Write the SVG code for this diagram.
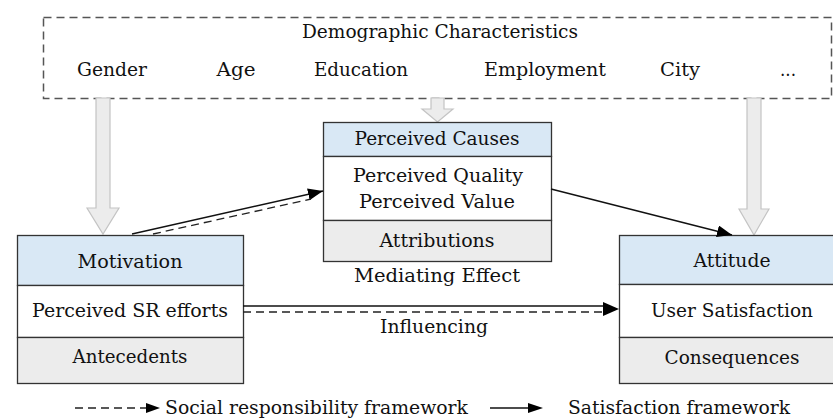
<svg xmlns="http://www.w3.org/2000/svg" width="833" height="419" viewBox="0 0 833 419">
  <style>
    text { font-family: "DejaVu Serif", "Liberation Serif", serif; font-size: 19px; fill: #111; }
    .t { text-anchor: middle; }
    .tl { text-anchor: start; }
    .box { stroke: #333; stroke-width: 1.3; }
    .head { fill: #d9e8f5; }
    .mid { fill: #ffffff; }
    .foot { fill: #ececec; }
    .big { fill: #ececec; stroke: #c4c4c4; stroke-width: 1.2; }
    .ln { stroke: #111; stroke-width: 1.4; fill: none; }
    .dash { stroke: #222; stroke-width: 1.3; stroke-dasharray: 8 5; fill: none; }
    .ah { fill: #000; }
  </style>
  <defs>
    <marker id="arrow" viewBox="0 0 15 12" refX="15" refY="6" markerWidth="15" markerHeight="12" markerUnits="userSpaceOnUse" orient="auto">
      <path d="M0,0 L15,6 L0,12 z" fill="#000"/>
    </marker>
  </defs>
  <rect width="833" height="419" fill="#ffffff"/>

  <!-- demographic frame -->
  <g id="demographics">
    <rect x="43.5" y="17.5" width="788" height="81" fill="none" stroke="#555" stroke-width="1.5" stroke-dasharray="8 5"/>
    <text class="t" x="440" y="38" textLength="276" lengthAdjust="spacingAndGlyphs">Demographic Characteristics</text>
    <text class="t" x="112" y="76" textLength="70" lengthAdjust="spacingAndGlyphs">Gender</text>
    <text class="t" x="236" y="76" textLength="39" lengthAdjust="spacingAndGlyphs">Age</text>
    <text class="t" x="361" y="76" textLength="94" lengthAdjust="spacingAndGlyphs">Education</text>
    <text class="t" x="545" y="76" textLength="122" lengthAdjust="spacingAndGlyphs">Employment</text>
    <text class="t" x="680" y="76" textLength="40" lengthAdjust="spacingAndGlyphs">City</text>
    <text class="t" x="788" y="76" textLength="16" lengthAdjust="spacingAndGlyphs">...</text>
  </g>

  <!-- broad grey influence arrows -->
  <g id="influence-arrows">
    <path class="big" d="M96,98 L110,98 L110,208 L119,208 L103,234 L87,208 L96,208 Z"/>
    <path class="big" d="M747,98 L761,98 L761,209 L769,209 L754,235 L739,209 L747,209 Z"/>
    <path class="big" d="M431,98 L444,98 L444,109 L453,109 L437.5,122 L422,109 L431,109 Z"/>
  </g>

  <!-- perceived causes -->
  <g id="perceived-causes">
    <rect class="box head" x="323.5" y="122.5" width="228" height="34"/>
    <rect class="box mid" x="323.5" y="156.5" width="228" height="64"/>
    <rect class="box foot" x="323.5" y="220.5" width="228" height="41"/>
    <text class="t" x="437" y="145" textLength="165" lengthAdjust="spacingAndGlyphs">Perceived Causes</text>
    <text class="t" x="438" y="182" textLength="170" lengthAdjust="spacingAndGlyphs">Perceived Quality</text>
    <text class="t" x="437" y="208" textLength="156" lengthAdjust="spacingAndGlyphs">Perceived Value</text>
    <text class="t" x="437" y="247" textLength="115" lengthAdjust="spacingAndGlyphs">Attributions</text>
    <text class="t" x="437" y="282" textLength="166" lengthAdjust="spacingAndGlyphs">Mediating Effect</text>
  </g>

  <!-- motivation -->
  <g id="motivation">
    <rect class="box head" x="17.5" y="235.5" width="226" height="50"/>
    <rect class="box mid" x="17.5" y="285.5" width="226" height="52"/>
    <rect class="box foot" x="17.5" y="337.5" width="226" height="46"/>
    <text class="t" x="130" y="268" textLength="105" lengthAdjust="spacingAndGlyphs">Motivation</text>
    <text class="t" x="130" y="317" textLength="196" lengthAdjust="spacingAndGlyphs">Perceived SR efforts</text>
    <text class="t" x="130" y="363" textLength="115" lengthAdjust="spacingAndGlyphs">Antecedents</text>
  </g>

  <!-- attitude -->
  <g id="attitude">
    <rect class="box head" x="619.5" y="235.5" width="226" height="49"/>
    <rect class="box mid" x="619.5" y="284.5" width="226" height="53"/>
    <rect class="box foot" x="619.5" y="337.5" width="226" height="46"/>
    <text class="t" x="732" y="267" textLength="77" lengthAdjust="spacingAndGlyphs">Attitude</text>
    <text class="t" x="732" y="317" textLength="162" lengthAdjust="spacingAndGlyphs">User Satisfaction</text>
    <text class="t" x="732" y="364" textLength="135" lengthAdjust="spacingAndGlyphs">Consequences</text>
  </g>

  <!-- connectors -->
  <g id="connectors">
    <line class="ln" x1="132" y1="234" x2="323" y2="191" marker-end="url(#arrow)"/>
    <line class="dash" x1="153" y1="234" x2="311" y2="199"/>
    <line class="ln" x1="551" y1="189" x2="732" y2="235" marker-end="url(#arrow)"/>
    <line class="ln" x1="243" y1="306" x2="605" y2="306"/>
    <line class="dash" x1="243" y1="312" x2="605" y2="312"/>
    <polygon class="ah" points="603,302 619,309 603,316"/>
    <text class="t" x="434" y="333" textLength="108" lengthAdjust="spacingAndGlyphs">Influencing</text>
  </g>

  <!-- legend -->
  <g id="legend">
    <line class="dash" x1="75" y1="408" x2="147" y2="408" stroke-dasharray="6 4"/>
    <polygon class="ah" points="146,403 160,408 146,413"/>
    <text class="tl" x="165" y="414" textLength="303" lengthAdjust="spacingAndGlyphs">Social responsibility framework</text>
    <line class="ln" x1="490" y1="408" x2="530" y2="408"/>
    <polygon class="ah" points="528,403 543,408 528,413"/>
    <text class="tl" x="568" y="414" textLength="222" lengthAdjust="spacingAndGlyphs">Satisfaction framework</text>
  </g>
</svg>
